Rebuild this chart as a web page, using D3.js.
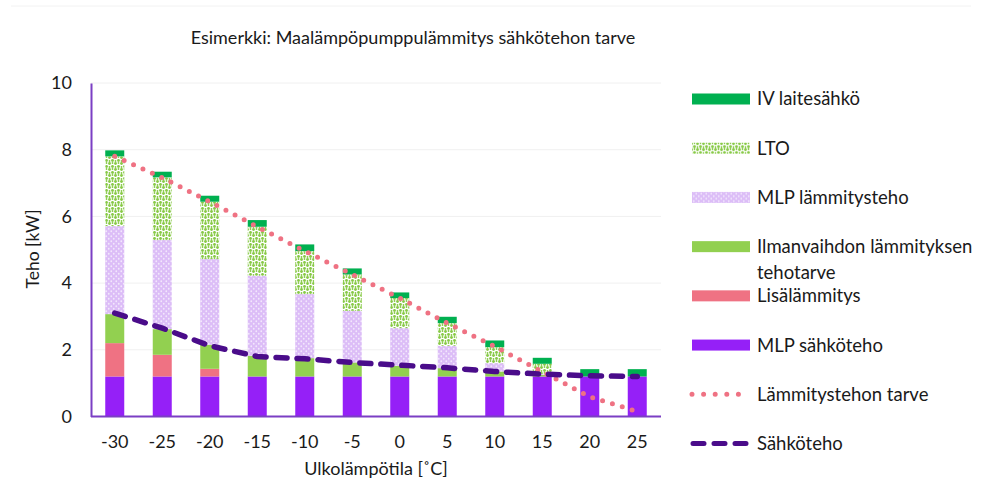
<!DOCTYPE html>
<html>
<head>
<meta charset="utf-8">
<script src="https://cdn.jsdelivr.net/npm/d3@7"></script>
<style>
  body { margin: 0; background: #fff; }
  text { font-family: Lato, "Open Sans", sans-serif; fill: #1a1a1a; }
</style>
</head>
<body>
<div id="chart"></div>
<script>
// ulkolämpötila categories
var categories = [-30, -25, -20, -15, -10, -5, 0, 5, 10, 15, 20, 25];

// stacked bar series (kW), bottom to top
var mlpSahkoteho   = [1.2, 1.2, 1.2, 1.2, 1.2, 1.2, 1.2, 1.2, 1.2, 1.2, 1.2, 1.2];
var lisalammitys   = [1.0, 0.65, 0.23, 0, 0, 0, 0, 0, 0, 0, 0, 0];
var ilmanvaihto    = [0.87, 0.77, 0.72, 0.62, 0.55, 0.42, 0.32, 0.25, 0.15, 0.05, 0, 0];
var mlpLammitys    = [2.64, 2.67, 2.57, 2.4, 1.92, 1.55, 1.13, 0.67, 0.25, 0.03, 0, 0];
var lto            = [2.09, 1.88, 1.72, 1.47, 1.29, 1.09, 0.9, 0.68, 0.48, 0.3, 0, 0];
var ivLaitesahko   = [0.18, 0.17, 0.18, 0.2, 0.2, 0.18, 0.17, 0.19, 0.2, 0.18, 0.22, 0.22];

// line series
var lammitysTarve  = [7.8, 7.16, 6.44, 5.69, 4.96, 4.26, 3.55, 2.8, 2.1, 1.34, 0.59, 0.15];
var sahkoteho      = [3.1, 2.65, 2.12, 1.8, 1.73, 1.62, 1.54, 1.46, 1.35, 1.27, 1.22, 1.2];

var yTicks = [0, 2, 4, 6, 8, 10];

var title = 'Esimerkki: Maalämpöpumppulämmitys sähkötehon tarve',
	yLabel = 'Teho [kW]',
	xLabel = 'Ulkolämpötila [˚C]';

var stackKeys = ['mlpSahko', 'lisa', 'ilma', 'mlpLamm', 'lto', 'iv'];
var seriesValues = {
	mlpSahko: mlpSahkoteho, lisa: lisalammitys, ilma: ilmanvaihto,
	mlpLamm: mlpLammitys, lto: lto, iv: ivLaitesahko
};
var seriesNames = {
	iv: 'IV laitesähkö', lto: 'LTO', mlpLamm: 'MLP lämmitysteho',
	ilma: ['Ilmanvaihdon lämmityksen', 'tehotarve'], lisa: 'Lisälämmitys',
	mlpSahko: 'MLP sähköteho'
};
var fills = {
	iv: '#00b050', lto: 'url(#ltoPat)', mlpLamm: 'url(#mlpPat)',
	ilma: '#92d050', lisa: '#ef7283', mlpSahko: '#9520f7'
};

var width = 982, height = 487;
var plot = {left: 91, right: 661, top: 83, bottom: 416.5};

var svg = d3.select('#chart').append('svg')
	.attr('width', width)
	.attr('height', height);

// patterns for LTO and MLP lämmitysteho
var defs = svg.append('defs');
var ltoPat = defs.append('pattern')
	.attr('id', 'ltoPat').attr('patternUnits', 'userSpaceOnUse')
	.attr('width', 6).attr('height', 6);
ltoPat.append('rect').attr('width', 6).attr('height', 6).attr('fill', '#fff');
[[1.5, 1.5], [4.5, 4.5], [4.5, 1], [1.5, 5]].forEach(function(p, i){
	ltoPat.append('circle').attr('cx', p[0]).attr('cy', p[1])
		.attr('r', i < 2 ? 1.4 : 0.9).attr('fill', '#86c944');
});
var mlpPat = defs.append('pattern')
	.attr('id', 'mlpPat').attr('patternUnits', 'userSpaceOnUse')
	.attr('width', 5).attr('height', 5);
mlpPat.append('rect').attr('width', 5).attr('height', 5).attr('fill', '#dcbdf7');
mlpPat.append('circle').attr('cx', 1.25).attr('cy', 1.25).attr('r', 0.9).attr('fill', '#f3e8fd');
mlpPat.append('circle').attr('cx', 3.75).attr('cy', 3.75).attr('r', 0.9).attr('fill', '#f3e8fd');

// faint frame line at top
svg.append('line')
	.attr('x1', 11).attr('x2', 971).attr('y1', 6).attr('y2', 6)
	.style('stroke', '#f2f2f2').style('stroke-width', 1);

var xScale = d3.scaleBand()
		.domain(categories)
		.range([plot.left, plot.right])
		.paddingInner(0.6)
		.paddingOuter(0.3),
	yScale = d3.scaleLinear().domain([0, 10]).range([plot.bottom, plot.top]);

// gridlines
svg.append('g').selectAll('line')
	.data(yTicks.slice(1))
	.enter().append('line')
		.attr('x1', plot.left).attr('x2', plot.right)
		.attr('y1', function(d){ return yScale(d); })
		.attr('y2', function(d){ return yScale(d); })
		.style('stroke', '#f0f0f0').style('stroke-width', 1);

// stacked bars
var rows = categories.map(function(c, i){
	var r = {cat: c};
	stackKeys.forEach(function(k){ r[k] = seriesValues[k][i]; });
	return r;
});
var layers = d3.stack().keys(stackKeys)(rows);

svg.append('g').selectAll('g')
	.data(layers)
	.enter().append('g')
		.attr('fill', function(d){ return fills[d.key]; })
	.selectAll('rect')
	.data(function(d){ return d; })
	.enter().append('rect')
		.attr('x', function(d){ return xScale(d.data.cat); })
		.attr('y', function(d){ return yScale(d[1]); })
		.attr('width', xScale.bandwidth())
		.attr('height', function(d){ return Math.max(0, yScale(d[0]) - yScale(d[1])); });

// lines
var line = d3.line()
	.x(function(d, i){ return xScale(categories[i]) + xScale.bandwidth() / 2; })
	.y(function(d){ return yScale(d); });

svg.append('path')
	.datum(lammitysTarve)
	.attr('d', line)
	.style('fill', 'none')
	.style('stroke', '#ef7283')
	.style('stroke-width', 5)
	.style('stroke-linecap', 'round')
	.style('stroke-dasharray', '0 10.3');

svg.append('path')
	.datum(sahkoteho)
	.attr('d', line)
	.style('fill', 'none')
	.style('stroke', '#4a0c8a')
	.style('stroke-width', 5.5)
	.style('stroke-linecap', 'round')
	.style('stroke-dasharray', '11 10');

// axes
var yAxis = svg.append('g')
	.attr('transform', 'translate(' + plot.left + ',0)')
	.call(d3.axisLeft(yScale).tickValues(yTicks).tickSize(0).tickPadding(19));
var xAxis = svg.append('g')
	.attr('transform', 'translate(0,' + plot.bottom + ')')
	.call(d3.axisBottom(xScale).tickSize(0).tickSizeOuter(0).tickPadding(19));

[yAxis, xAxis].forEach(function(a){
	a.select('.domain').style('stroke', '#7b3fc4').style('stroke-width', 2);
	a.selectAll('text')
		.style('font-family', 'Lato, sans-serif')
		.style('font-size', '18px')
		.style('fill', '#1a1a1a');
});
xAxis.select('.domain').attr('d', 'M' + plot.left + ',0H' + plot.right);

// titles
svg.append('text')
	.attr('x', 413).attr('y', 44)
	.attr('text-anchor', 'middle')
	.style('font-size', '18px')
	.text(title);

svg.append('text')
	.attr('transform', 'translate(39,' + 249 + ') rotate(-90)')
	.attr('text-anchor', 'middle')
	.style('font-size', '17.5px')
	.text(yLabel);

svg.append('text')
	.attr('x', (plot.left + plot.right) / 2).attr('y', 475)
	.attr('text-anchor', 'middle')
	.style('font-size', '18px')
	.text(xLabel);

// legend
var legendKeys = stackKeys.slice().reverse().concat(['tarve', 'sahko']);
var legendY = d3.scalePoint().domain(legendKeys).range([99, 443.5]);

var legend = svg.append('g').selectAll('g')
	.data(legendKeys)
	.enter().append('g')
		.attr('transform', function(d){ return 'translate(0,' + legendY(d) + ')'; });

legend.filter(function(d){ return fills[d]; })
	.append('rect')
		.attr('x', 692).attr('y', -5.5)
		.attr('width', 58).attr('height', 11)
		.attr('fill', function(d){ return fills[d]; });

legend.filter(function(d){ return d == 'tarve'; })
	.append('line')
		.attr('x1', 692).attr('x2', 750)
		.style('stroke', '#ef7283').style('stroke-width', 5)
		.style('stroke-linecap', 'round').style('stroke-dasharray', '0 11.6');

legend.filter(function(d){ return d == 'sahko'; })
	.append('line')
		.attr('x1', 693).attr('x2', 750)
		.style('stroke', '#4a0c8a').style('stroke-width', 5)
		.style('stroke-linecap', 'round').style('stroke-dasharray', '11 10');

legend.append('text')
	.attr('x', 757)
	.style('font-size', '18.5px')
	.each(function(d){
		var name = d == 'tarve' ? 'Lämmitystehon tarve' : d == 'sahko' ? 'Sähköteho' : seriesNames[d];
		var lines = Array.isArray(name) ? name : [name];
		var t = d3.select(this);
		lines.forEach(function(l, i){
			t.append('tspan').attr('x', 757).attr('dy', i == 0 ? '0.35em' : 25.6).text(l);
		});
	});
</script>
</body>
</html>
